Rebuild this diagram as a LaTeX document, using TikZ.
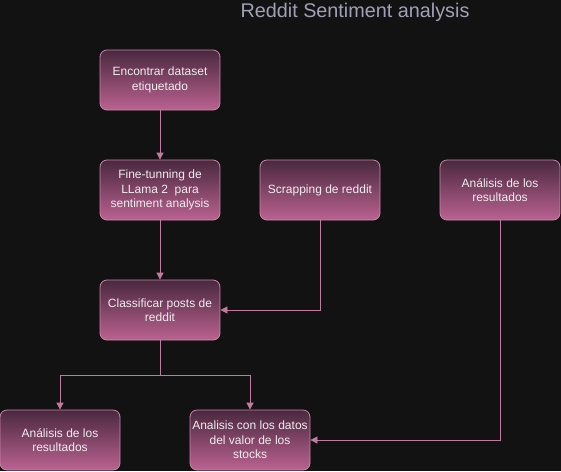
\documentclass[tikz,border=0pt]{standalone}
\usepackage{fontspec}
\setmainfont{Liberation Sans}
\usetikzlibrary{arrows.meta}
\definecolor{bg}{HTML}{121212}
\definecolor{boxtop}{HTML}{4A283F}
\definecolor{boxbot}{HTML}{BA6290}
\definecolor{boxline}{HTML}{C986A8}
\definecolor{arr}{HTML}{C27BA0}
\definecolor{txt}{HTML}{EEEEEE}
\definecolor{ttl}{HTML}{A0A0B8}
\tikzset{
  stepbox/.style={draw=boxline, line width=0.8pt, rounded corners=7pt,
    top color=boxtop, bottom color=boxbot, minimum width=120pt, minimum height=60pt,
    align=center, text=txt, font=\fontsize{12}{14.5}\selectfont, inner sep=1pt},
  conn/.style={draw=arr, line width=0.8pt, -{Triangle[length=7pt,width=7pt]}},
}
\begin{document}
\begin{tikzpicture}[x=1pt,y=-1pt]
\fill[bg] (0,0) rectangle (561,471);
\useasboundingbox (0,0) rectangle (561,471);
\node[text=ttl, font=\fontsize{19.8}{22}\selectfont] (title) at (355,12) {Reddit Sentiment analysis};
\node[stepbox] (b1) at (160,80) {Encontrar dataset\\etiquetado};
\node[stepbox] (b2) at (160,190) {Fine-tunning de\\LLama 2~ para\\sentiment analysis};
\node[stepbox] (b3) at (320,190) {Scrapping de reddit};
\node[stepbox] (b4) at (500,190) {Análisis de los\\resultados};
\node[stepbox] (b5) at (160,310) {Classificar posts de\\reddit};
\node[stepbox] (b6) at (60,440) {Análisis de los\\resultados};
\node[stepbox] (b7) at (250,440) {Analisis con los datos\\del valor de los\\stocks};
\coordinate (split) at (160,375);
\draw[conn] (b1) -- (b2);
\draw[conn] (b2) -- (b5);
\draw[conn] (b3.south) |- (b5.east);
\draw[conn] (b5.south) -- (split) -| (b6.north);
\draw[conn] (split) -| (b7.north);
\draw[conn] (b4.south) |- (b7.east);
\end{tikzpicture}
\end{document}
